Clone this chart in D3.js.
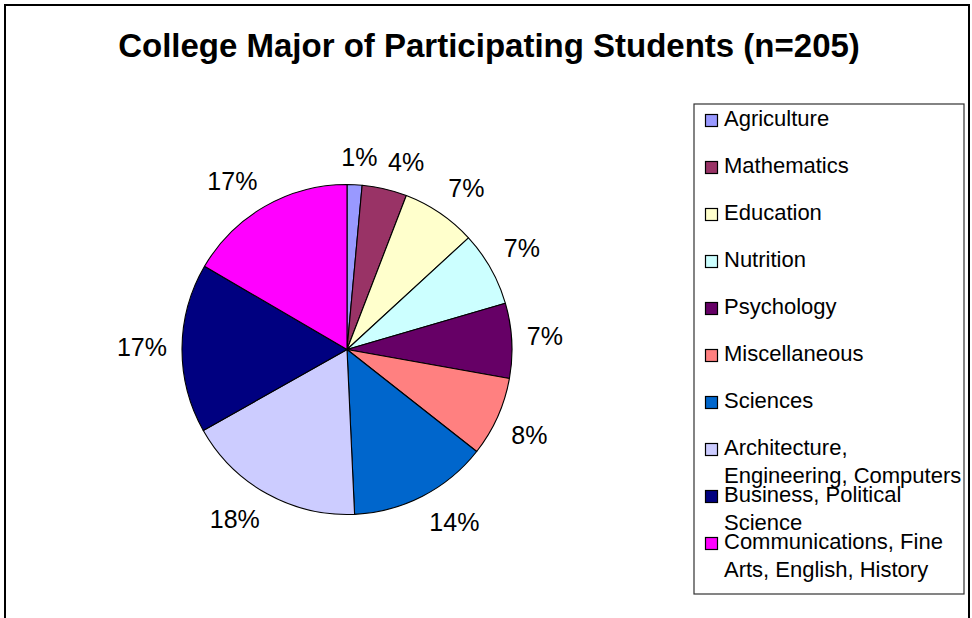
<!DOCTYPE html>
<html>
<head>
<meta charset="utf-8">
<script src="https://cdn.jsdelivr.net/npm/d3@7"></script>
<style>
  html, body { margin: 0; padding: 0; background: #ffffff; }
  svg { display: block; font-family: "Liberation Sans", Arial, sans-serif; }
</style>
</head>
<body>
<svg id="chart" width="972" height="618"></svg>
<script>
// Students per major (n = 205)
const categories = [
  "Agriculture",
  "Mathematics",
  "Education",
  "Nutrition",
  "Psychology",
  "Miscellaneous",
  "Sciences",
  "Architecture, Engineering, Computers",
  "Business, Political Science",
  "Communications, Fine Arts, English, History"
];
const counts = [3, 9, 15, 15, 15, 16, 28, 36, 34, 34];
const colors = ["#9999FF", "#993366", "#FFFFCC", "#CCFFFF", "#660066",
                "#FF8080", "#0066CC", "#CCCCFF", "#000080", "#FF00FF"];
const titleText = "College Major of Participating Students (n=205)";

const svg = d3.select("#chart");

// Chart area frame
svg.append("rect")
  .attr("x", 5).attr("y", 5)
  .attr("width", 964).attr("height", 630)
  .attr("fill", "#ffffff")
  .attr("stroke", "#000000")
  .attr("stroke-width", 2);

// Title
svg.append("text")
  .attr("x", 489).attr("y", 57)
  .attr("text-anchor", "middle")
  .attr("font-size", 33)
  .attr("font-weight", "bold")
  .attr("fill", "#000")
  .text(titleText);

// Pie
const cx = 347, cy = 349.5, r = 165;
const total = d3.sum(counts);
const data = categories.map((c, i) => ({ name: c, value: counts[i], color: colors[i] }));
const pie = d3.pie().value(d => d.value).sort(null);
const arcs = pie(data);
const arcGen = d3.arc().innerRadius(0).outerRadius(r);

const g = svg.append("g").attr("transform", `translate(${cx},${cy})`);
g.selectAll("path.slice")
  .data(arcs)
  .join("path")
  .attr("class", "slice")
  .attr("d", arcGen)
  .attr("fill", d => d.data.color)
  .attr("stroke", "#000")
  .attr("stroke-width", 1.1)
  .attr("stroke-linejoin", "round");

// Percentage labels outside the pie: an anchor point sits on the slice's
// mid angle, and the label box is pushed away from the pie so that its
// nearest corner rests on that point.
const fmt = v => Math.round(v / total * 100) + "%";
const anchorR = 180;
const labelFont = 25;
const clamp = v => Math.max(-1, Math.min(1, v));
g.selectAll("text.pct")
  .data(arcs)
  .join("text")
  .attr("class", "pct")
  .attr("text-anchor", "middle")
  .attr("dy", "0.35em")
  .attr("font-size", labelFont)
  .attr("fill", "#000")
  .text(d => fmt(d.data.value))
  .each(function (d) {
    const w = this.getComputedTextLength();
    const h = labelFont;
    const a = (d.startAngle + d.endAngle) / 2;
    const s = Math.sin(a), c = Math.cos(a);
    const x = anchorR * s + (w / 2) * clamp(s * 5);
    const y = -anchorR * c - (h / 2) * clamp(c * 5);
    d3.select(this).attr("x", x).attr("y", y);
  });

// Legend
const lx = 694, ly = 104, lw = 270, lh = 490;
svg.append("rect")
  .attr("x", lx).attr("y", ly)
  .attr("width", lw).attr("height", lh)
  .attr("fill", "#fff")
  .attr("stroke", "#333")
  .attr("stroke-width", 1.2);

const legFont = 22;
const rowY = d3.scaleLinear().domain([0, categories.length - 1]).range([126, 549]);
const maxTextW = 240;
const leg = svg.append("g");
data.forEach((d, i) => {
  const base = rowY(i);
  leg.append("rect")
    .attr("x", 705.5).attr("y", base - 11.5)
    .attr("width", 12).attr("height", 12)
    .attr("fill", d.color)
    .attr("stroke", "#000")
    .attr("stroke-width", 1.2);
  const t = leg.append("text")
    .attr("x", 724).attr("y", base)
    .attr("font-size", legFont)
    .attr("fill", "#000");
  // word wrap within the legend box
  const words = d.name.split(" ");
  let line = [], lineNo = 0;
  let ts = t.append("tspan").attr("x", 724).attr("y", base);
  words.forEach(wd => {
    line.push(wd);
    ts.text(line.join(" "));
    if (ts.node().getComputedTextLength() > maxTextW && line.length > 1) {
      line.pop();
      ts.text(line.join(" "));
      line = [wd];
      lineNo++;
      ts = t.append("tspan").attr("x", 724).attr("y", base + lineNo * 28).text(wd);
    }
  });
});
</script>
</body>
</html>
